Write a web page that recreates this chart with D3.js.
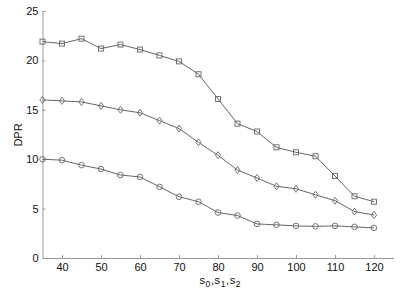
<!DOCTYPE html>
<html><head><meta charset="utf-8">
<script src="https://cdn.jsdelivr.net/npm/d3@7"></script>
<style>
html,body{margin:0;padding:0;background:#fff;}
svg text{font-family:"Liberation Sans",Arial,sans-serif;}
</style></head>
<body><svg id="c" width="415" height="294"></svg>
<script>
const xValues = [35,40,45,50,55,60,65,70,75,80,85,90,95,100,105,110,115,120];
const squareSeries = [21.9,21.7,22.2,21.2,21.6,21.1,20.5,19.9,18.6,16.1,13.6,12.8,11.2,10.7,10.3,8.3,6.25,5.7];
const diamondSeries = [16.0,15.9,15.8,15.4,15.0,14.7,13.9,13.1,11.7,10.4,8.9,8.1,7.26,7.0,6.4,5.8,4.7,4.35];
const circleSeries = [10.0,9.9,9.4,9.0,8.4,8.2,7.2,6.2,5.7,4.6,4.3,3.45,3.35,3.25,3.2,3.25,3.15,3.05];
const xTicks = [40,50,60,70,80,90,100,110,120];
const yTicks = [0,5,10,15,20,25];
const xLabelParts = [["s",0],["0",1],[",",0],["s",0],["1",1],[",",0],["s",0],["2",1]];

const svg = d3.select("#c");
const x = d3.scaleLinear().domain([35,125]).range([42.5,393.5]);
const y = d3.scaleLinear().domain([0,25]).range([258,11]);
const axisColor = "#999";

const xAxis = svg.append("g").attr("transform","translate(0,258)")
  .call(d3.axisBottom(x).tickValues(xTicks).tickSizeInner(-3).tickSizeOuter(0).tickPadding(5));
const yAxis = svg.append("g").attr("transform","translate(42.5,0)")
  .call(d3.axisLeft(y).tickValues(yTicks).tickSizeInner(-3).tickSizeOuter(0).tickPadding(4));
[xAxis,yAxis].forEach(g=>{
  g.select(".domain").attr("stroke",axisColor);
  g.selectAll(".tick line").attr("stroke",axisColor);
  g.selectAll(".tick text").attr("fill","#111").attr("font-size","11px");
});

const line = d3.line().x((d,i)=>x(xValues[i])).y(d=>y(d));
const lineColor = "#555", markColor = "#666";
[squareSeries,diamondSeries,circleSeries].forEach(s=>{
  svg.append("path").datum(s).attr("d",line).attr("fill","none").attr("stroke",lineColor).attr("stroke-width",0.9);
});
svg.append("g").selectAll("rect").data(squareSeries).join("rect")
  .attr("x",(d,i)=>x(xValues[i])-2.5).attr("y",d=>y(d)-2.5).attr("width",5).attr("height",5)
  .attr("fill","none").attr("stroke",markColor).attr("stroke-width",0.9);
svg.append("g").selectAll("path").data(diamondSeries).join("path")
  .attr("d",(d,i)=>{const cx=x(xValues[i]),cy=y(d);return `M${cx},${cy-3.5}L${cx+2.6},${cy}L${cx},${cy+3.5}L${cx-2.6},${cy}Z`;})
  .attr("fill","none").attr("stroke",markColor).attr("stroke-width",0.9);
svg.append("g").selectAll("circle").data(circleSeries).join("circle")
  .attr("cx",(d,i)=>x(xValues[i])).attr("cy",d=>y(d)).attr("r",2.8)
  .attr("fill","none").attr("stroke",markColor).attr("stroke-width",0.9);

svg.append("text").attr("transform","translate(22,135) rotate(-90)").attr("text-anchor","middle")
  .attr("font-size","11px").attr("fill","#111").text("DPR");
const xl = svg.append("text").attr("x",220).attr("y",284).attr("text-anchor","middle").attr("font-size","11px").attr("fill","#111");
let prevSub = 0;
xLabelParts.forEach(([t,sub],i)=>{
  const ts = xl.append("tspan").text(t);
  if(i>0) ts.attr("dx",0.6);
  if(sub) ts.attr("font-size","8.5px").attr("dy",3);
  else if(prevSub) ts.attr("dy",-3);
  prevSub = sub;
});
</script></body></html>
